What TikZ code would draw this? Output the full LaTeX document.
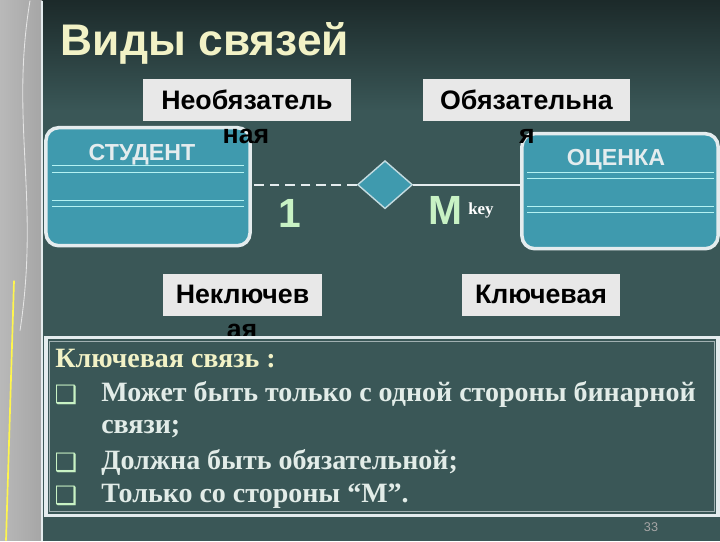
\documentclass[tikz,border=0pt]{standalone}
\usepackage{fontspec}
\setmainfont{Liberation Serif}
\setsansfont{Liberation Sans}
\newfontfamily\dejavu{DejaVu Sans}
\usepackage{tikz}
\usetikzlibrary{shapes.geometric}
\definecolor{slate}{HTML}{3A5757}
\definecolor{slatetop}{HTML}{1C2A2A}
\definecolor{entfill}{HTML}{3F9AAE}
\definecolor{rimwhite}{HTML}{E4ECEE}
\definecolor{rowline}{HTML}{B4F2F2}
\definecolor{tagfill}{HTML}{E8E8E8}
\definecolor{cream}{HTML}{F2F2C6}
\definecolor{palegreen}{HTML}{C8F2C4}
\definecolor{bodytext}{HTML}{E2ECE8}
\tikzstyle{entity} = [draw=rimwhite,line width=2.5pt,fill=entfill,rounded corners=9pt]
\tikzstyle{entname} = [text=rimwhite,font=\sffamily\bfseries\fontsize{16.5}{18}\selectfont]
\tikzstyle{rowsep} = [rowline,line width=1pt]
\tikzstyle{tag} = [fill=tagfill,inner sep=0pt,font=\sffamily\bfseries\fontsize{19}{22}\selectfont]
\tikzstyle{spill} = [inner sep=0pt,font=\sffamily\bfseries\fontsize{19}{22}\selectfont]
\tikzstyle{card} = [text=palegreen,font=\sffamily\bfseries\fontsize{29}{32}\selectfont]
\tikzstyle{line} = [text=bodytext,anchor=west,inner sep=0pt,font=\bfseries\fontsize{19.9}{22}\selectfont]
\tikzstyle{bullet} = [text=palegreen,inner sep=0pt,font=\dejavu\fontsize{18}{20}\selectfont]

\begin{document}
\begin{tikzpicture}[x=0.025cm,y=-0.025cm]
	% background
	\fill[slate] (0,0) rectangle (720,540);
	\shade[top color=slatetop,bottom color=slate] (0,0) rectangle (720,110);
	\shade[left color=gray!55,right color=gray!70] (0,0) rectangle (42,540);
	\draw[yellow!70,line width=1.2pt] (14,280) -- (6,540);
	\draw[white!80!gray,line width=0.6pt] (30,0) .. controls (10,120) and (40,200) .. (20,330);
	\draw[rimwhite,line width=1pt] (42,0) -- (42,540);
	% title
	\node[text=cream,anchor=west,font=\sffamily\bfseries\fontsize{31.5}{36}\selectfont] (title) at (56,43) {Виды связей};
	% entities
	\node[entity,minimum width=5.1cm,minimum height=2.95cm] (student) at (148,186) {};
	\node[entity,minimum width=4.9cm,minimum height=2.875cm] (ocenka) at (620,190.5) {};
	\node[entname] (studentname) at (142,154) {СТУДЕНТ};
	\node[entname] (ocenkaname) at (616,159) {ОЦЕНКА};
	\draw[rowsep] (52,165) -- (244,165);
	\draw[rowsep] (52,172) -- (244,172);
	\draw[rowsep] (52,200) -- (244,200);
	\draw[rowsep] (52,206) -- (244,206);
	\draw[rowsep] (527,172) -- (714,172);
	\draw[rowsep] (527,178) -- (714,178);
	\draw[rowsep] (527,206) -- (714,206);
	\draw[rowsep] (527,212) -- (714,212);
	% relationship
	\node[diamond,draw=rimwhite!80!entfill,line width=1pt,fill=entfill,minimum width=1.375cm,minimum height=1.2cm,inner sep=0pt] (rel) at (385,184) {};
	\draw[rimwhite,line width=1.5pt,dashed,dash pattern=on 7pt off 4pt] (rel.west) -- (rel.west -| student.east);
	\draw[rimwhite,line width=1.5pt] (rel.east) -- (rel.east -| ocenka.west);
	\node[card] (one) at (290,213) {1};
	\node[card] (many) at (445,210) {M};
	\node[text=white,inner sep=0pt,font=\bfseries\fontsize{12}{14}\selectfont] (key) at (481,210) {key};
	% tags
	\node[tag,minimum width=5.2cm,minimum height=1.05cm] (optional) at (247,99) {Необязатель};
	\node[tag,minimum width=5.175cm,minimum height=1.05cm] (mandatory) at (526.5,99) {Обязательна};
	\node[tag,minimum width=3.975cm,minimum height=1.05cm] (nonkey) at (242.5,294) {Неключев};
	\node[tag,minimum width=3.95cm,minimum height=1.05cm] (iskey) at (541,294) {Ключевая};
	\node[spill] (optionalrest) at (246,136) {ная};
	\node[spill] (mandatoryrest) at (527,136) {я};
	\node[spill] (nonkeyrest) at (242,331) {ая};
	% notes
	\node[draw=rimwhite,line width=2.5pt,fill=slate,minimum width=16.8cm,minimum height=4.45cm] (panel) at (382,426) {};
	\draw[rimwhite!60!slate,line width=0.6pt] ([shift={(4pt,-4pt)}]panel.north west) rectangle ([shift={(-4pt,4pt)}]panel.south east);
	\node[line,text=cream] (head) at (55,358) {Ключевая связь :};
	\node[bullet] (b1) at (66,394) {❑};
	\node[line] (l1) at (101,394) {Может быть только с одной стороны бинарной};
	\node[line] (l2) at (101,428) {связи;};
	\node[bullet] (b2) at (66,462) {❑};
	\node[line] (l3) at (101,462) {Должна быть обязательной;};
	\node[bullet] (b3) at (66,495) {❑};
	\node[line] (l4) at (101,495) {Только со стороны “М”.};
	\node[text=gray!70,font=\sffamily\fontsize{9}{10}\selectfont] (pageno) at (651,526) {33};
\end{tikzpicture}
\end{document}
